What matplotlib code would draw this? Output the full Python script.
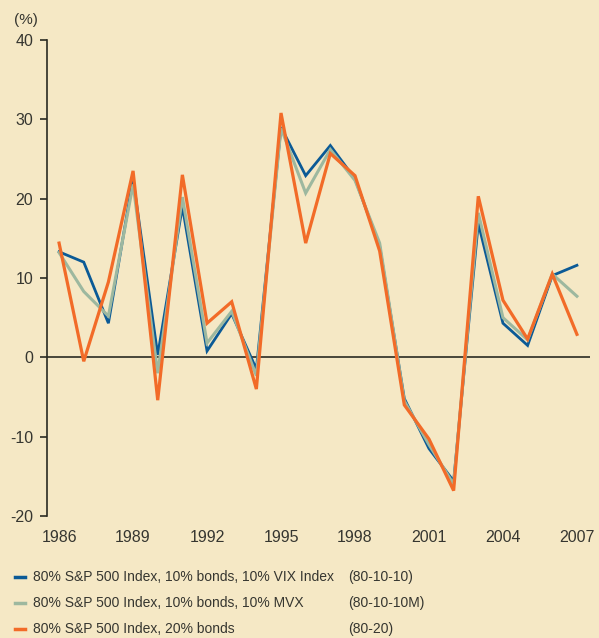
import matplotlib
matplotlib.use("Agg")
import matplotlib.pyplot as plt
from matplotlib.lines import Line2D

plt.rcParams['font.family'] = ['Liberation Sans', 'DejaVu Sans']
plt.rcParams['axes.unicode_minus'] = False

years = list(range(1986, 2008))
vix = [13.3, 12.0, 4.3, 22.5, 0.3, 19.0, 0.8, 5.5, -1.5, 29.0, 22.9, 26.7,
       22.5, 14.0, -5.2, -11.5, -15.6, 16.9, 4.3, 1.5, 10.3, 11.6]
mvx = [13.2, 8.3, 5.2, 21.8, -2.0, 20.2, 1.8, 5.8, -2.3, 28.9, 20.7, 26.2,
       22.3, 14.4, -5.5, -11.0, -16.0, 18.2, 5.0, 2.2, 10.5, 7.7]
bonds = [14.4, -0.5, 9.5, 23.5, -5.4, 23.0, 4.3, 7.0, -4.0, 30.8, 14.4, 25.7,
         22.9, 13.4, -6.0, -10.3, -16.8, 20.3, 7.2, 2.3, 10.5, 2.9]

labels = ["80% S&P 500 Index, 10% bonds, 10% VIX Index",
          "80% S&P 500 Index, 10% bonds, 10% MVX",
          "80% S&P 500 Index, 20% bonds"]
codes = ["(80-10-10)", "(80-10-10M)", "(80-20)"]
colors = ["#0b5a96", "#9db89f", "#f26b28"]
xticks = list(range(1986, 2008, 3))
yticks = [-20, -10, 0, 10, 20, 30, 40]

bg = "#f5e8c5"
txt = "#363630"

fig = plt.figure(figsize=(5.99, 6.38), dpi=100, facecolor=bg)
ax = fig.add_axes([47 / 599, 1 - 516 / 638, 543 / 599, 476 / 638])
ax.set_facecolor(bg)

ax.axhline(0, color="#2b2b22", lw=1.2, zorder=1)
for series, c, w in zip([vix, mvx, bonds], colors, [2.0, 2.2, 2.3]):
    ax.plot(years, series, color=c, lw=w, zorder=3, solid_joinstyle='miter')

ax.set_xlim(1985.51, 2007.53)
ax.set_ylim(-20, 40)
ax.set_xticks(xticks)
ax.set_yticks(yticks)
for s in ['top', 'right', 'bottom']:
    ax.spines[s].set_visible(False)
ax.spines['left'].set_color("#2b2b22")
ax.spines['left'].set_linewidth(1.2)
ax.tick_params(axis='y', direction='out', length=5, width=1.2, color="#2b2b22",
               labelsize=11.5, labelcolor=txt, pad=5)
ax.tick_params(axis='x', length=0, labelsize=11.5, labelcolor=txt, pad=10)

fig.text(26 / 599, 1 - 20 / 638, "(%)", fontsize=11, color=txt, ha='center', va='center')

for i in range(3):
    y = 1 - (577 + 26 * i) / 638
    fig.add_artist(Line2D([15 / 599, 25 / 599], [y, y], color=colors[i], lw=2.5,
                          transform=fig.transFigure))
    fig.text(33 / 599, y, labels[i], fontsize=10, color=txt, va='center')
    fig.text(348 / 599, y, codes[i], fontsize=10, color=txt, va='center')

fig.savefig("out.png", dpi=100, facecolor=bg)
